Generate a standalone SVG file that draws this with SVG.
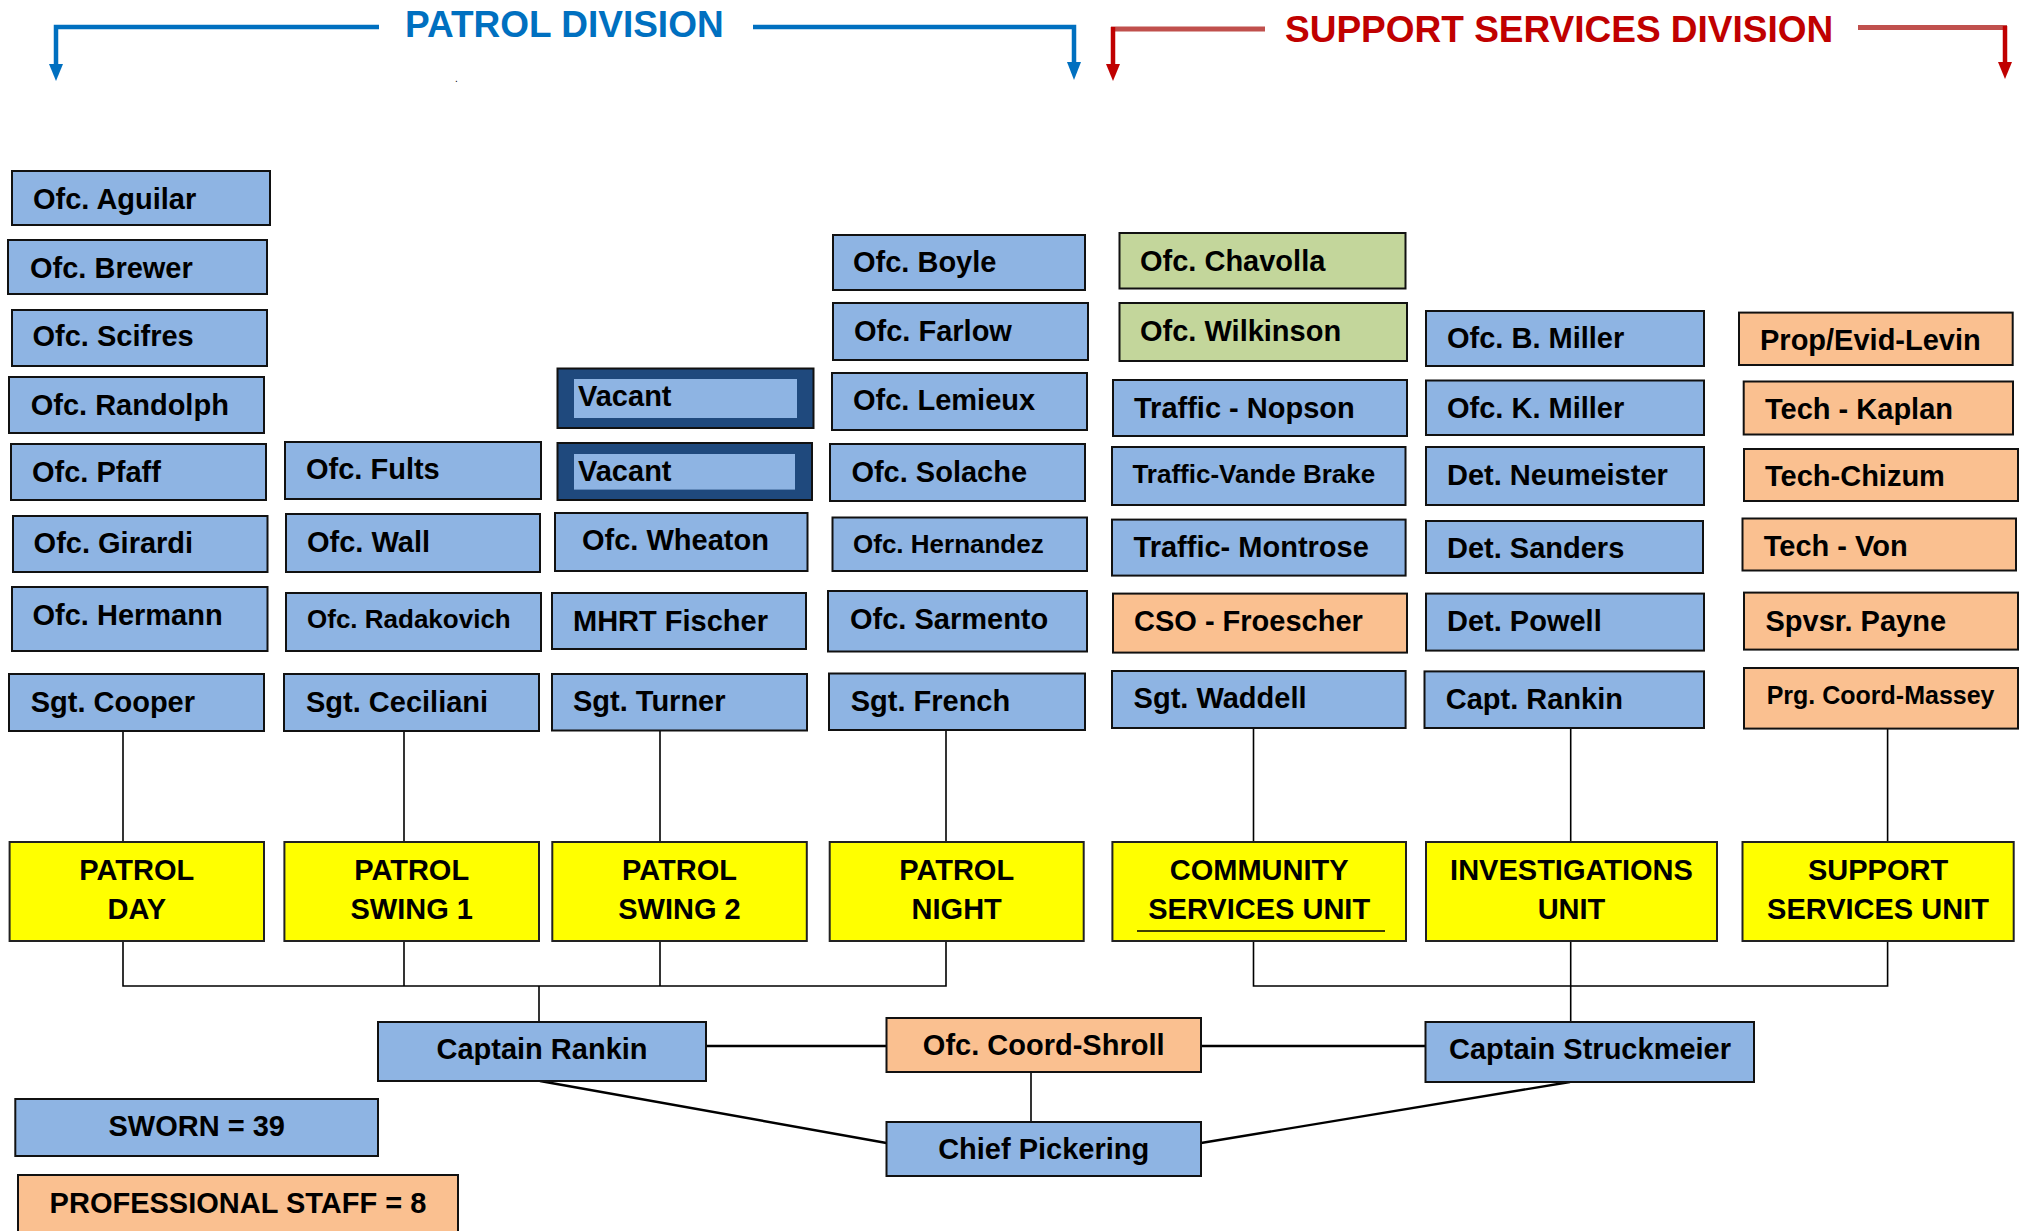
<svg xmlns="http://www.w3.org/2000/svg" width="2025" height="1231" viewBox="0 0 2025 1231">
<style>
rect.b{fill:#8EB4E3;stroke:#111;stroke-width:2}
rect.g{fill:#C3D69B;stroke:#111;stroke-width:2}
rect.o{fill:#FAC090;stroke:#111;stroke-width:2}
rect.y{fill:#FFFF00;stroke:#222;stroke-width:2}
rect.v{fill:#1F497D;stroke:#111;stroke-width:2}
rect.vi{fill:#8EB4E3;stroke:none}
text{font-family:"Liberation Sans",Arial,Helvetica,sans-serif;font-weight:bold;fill:#000}
.t{font-size:29px}
.s{font-size:26px}
.xs{font-size:25px}
.c{font-size:29px;text-anchor:middle}
.hb{font-size:37px;fill:#0070C0}
.hr{font-size:37px;fill:#C00000}
.ln{stroke:#000;stroke-width:1.6;fill:none}
.lm{stroke:#000;stroke-width:2.4;fill:none}
</style>
<defs>
<marker id="ab" markerUnits="userSpaceOnUse" markerWidth="14" markerHeight="16" refX="7" refY="16" orient="auto-start-reverse" viewBox="0 0 14 16"><path d="M0,0 L14,0 L7,16 Z" fill="#0070C0" transform="rotate(-90 7 8)"/></marker>
</defs>
<rect width="2025" height="1231" fill="#fff"/>

<!-- Headers -->
<g id="header-patrol">
<polyline points="379,27 56,27 56,66" fill="none" stroke="#0070C0" stroke-width="4.5"/>
<polygon points="49,64 63,64 56,81" fill="#0070C0"/>
<polyline points="753,27 1074,27 1074,64" fill="none" stroke="#0070C0" stroke-width="4.5"/>
<polygon points="1067,62 1081,62 1074,80" fill="#0070C0"/>
<text class="hb" x="405" y="37">PATROL DIVISION</text>
<text x="455" y="82" style="font-size:10px;font-weight:normal">.</text>
</g>
<g id="header-support">
<line x1="1265" y1="29" x2="1111" y2="29" stroke="#C0504D" stroke-width="5"/>
<line x1="1113" y1="27" x2="1113" y2="66" stroke="#C00000" stroke-width="4.5"/>
<polygon points="1106,64 1120,64 1113,81" fill="#C00000"/>
<line x1="1858" y1="27.5" x2="2007" y2="27.5" stroke="#C0504D" stroke-width="5"/>
<line x1="2005" y1="26" x2="2005" y2="64" stroke="#C00000" stroke-width="4.5"/>
<polygon points="1998,62 2012,62 2005,79" fill="#C00000"/>
<text class="hr" x="1285" y="42">SUPPORT SERVICES DIVISION</text>
</g>

<!-- Connectors -->
<g id="connectors">
<line class="ln" x1="123" y1="731" x2="123" y2="842"/>
<line class="ln" x1="404" y1="731" x2="404" y2="842"/>
<line class="ln" x1="660" y1="730" x2="660" y2="842"/>
<line class="ln" x1="946" y1="730" x2="946" y2="842"/>
<line class="ln" x1="1253.5" y1="728" x2="1253.5" y2="842"/>
<line class="ln" x1="1570.7" y1="728" x2="1570.7" y2="842"/>
<line class="ln" x1="1887.6" y1="729" x2="1887.6" y2="842"/>
<polyline class="ln" points="123,941 123,986 946,986 946,941"/>
<line class="ln" x1="404" y1="941" x2="404" y2="986"/>
<line class="ln" x1="660" y1="941" x2="660" y2="986"/>
<line class="ln" x1="539" y1="986" x2="539" y2="1022"/>
<polyline class="ln" points="1253.5,941 1253.5,986 1887.6,986 1887.6,941"/>
<line class="ln" x1="1570.7" y1="941" x2="1570.7" y2="1022"/>
<line class="lm" x1="706" y1="1046" x2="886.5" y2="1046"/>
<line class="lm" x1="1201" y1="1046" x2="1425.5" y2="1046"/>
<line class="ln" x1="1031" y1="1072" x2="1031" y2="1122"/>
<line class="lm" x1="540" y1="1081" x2="886.5" y2="1143"/>
<line class="lm" x1="1570" y1="1082" x2="1201" y2="1143"/>
</g>

<!-- Patrol Day -->
<g id="ofc-aguilar"><rect class="b" x="12" y="171" width="258" height="54"/><text class="t" x="33" y="209">Ofc. Aguilar</text></g>
<g id="ofc-brewer"><rect class="b" x="8" y="240" width="259" height="54"/><text class="t" x="30" y="278">Ofc. Brewer</text></g>
<g id="ofc-scifres"><rect class="b" x="12" y="310" width="255" height="56"/><text class="t" x="32.5" y="346">Ofc. Scifres</text></g>
<g id="ofc-randolph"><rect class="b" x="9" y="377" width="255" height="56"/><text class="t" x="30.7" y="414.5">Ofc. Randolph</text></g>
<g id="ofc-pfaff"><rect class="b" x="11" y="444" width="255" height="56"/><text class="t" x="32" y="481.5">Ofc. Pfaff</text></g>
<g id="ofc-girardi"><rect class="b" x="13" y="516" width="254.5" height="56"/><text class="t" x="33.6" y="553">Ofc. Girardi</text></g>
<g id="ofc-hermann"><rect class="b" x="12" y="587" width="255.5" height="64"/><text class="t" x="32.5" y="625">Ofc. Hermann</text></g>
<g id="sgt-cooper"><rect class="b" x="9" y="674" width="255" height="57"/><text class="t" x="30.7" y="712">Sgt. Cooper</text></g>

<!-- Patrol Swing 1 -->
<g id="ofc-fults"><rect class="b" x="285" y="442" width="256" height="57"/><text class="t" x="306" y="479">Ofc. Fults</text></g>
<g id="ofc-wall"><rect class="b" x="286" y="514" width="254" height="58"/><text class="t" x="307" y="552">Ofc. Wall</text></g>
<g id="ofc-radakovich"><rect class="b" x="286" y="593" width="255" height="58"/><text class="s" x="307" y="628">Ofc. Radakovich</text></g>
<g id="sgt-ceciliani"><rect class="b" x="284" y="674" width="255" height="57"/><text class="t" x="306" y="712">Sgt. Ceciliani</text></g>

<!-- Patrol Swing 2 -->
<g id="vacant-1"><rect class="v" x="557.5" y="368.5" width="256" height="59.5"/><rect class="vi" x="574" y="379" width="223" height="39"/><text class="t" x="578" y="406">Vacant</text></g>
<g id="vacant-2"><rect class="v" x="557.5" y="443" width="254.5" height="57"/><rect class="vi" x="574" y="454" width="221" height="35.6"/><text class="t" x="578" y="480.7">Vacant</text></g>
<g id="ofc-wheaton"><rect class="b" x="555" y="513" width="252.5" height="58"/><text class="t" x="582" y="550">Ofc. Wheaton</text></g>
<g id="mhrt-fischer"><rect class="b" x="552" y="593" width="254" height="56"/><text class="t" x="573" y="630.5">MHRT Fischer</text></g>
<g id="sgt-turner"><rect class="b" x="552" y="674" width="255" height="56.5"/><text class="t" x="573" y="710.7">Sgt. Turner</text></g>

<!-- Patrol Night -->
<g id="ofc-boyle"><rect class="b" x="833" y="235" width="252" height="55"/><text class="t" x="853" y="272">Ofc. Boyle</text></g>
<g id="ofc-farlow"><rect class="b" x="833" y="303" width="255" height="57"/><text class="t" x="854" y="340.5">Ofc. Farlow</text></g>
<g id="ofc-lemieux"><rect class="b" x="832" y="373" width="255" height="57"/><text class="t" x="853" y="410.4">Ofc. Lemieux</text></g>
<g id="ofc-solache"><rect class="b" x="830" y="444" width="255" height="57"/><text class="t" x="851.4" y="481.7">Ofc. Solache</text></g>
<g id="ofc-hernandez"><rect class="b" x="832.5" y="517.5" width="254.5" height="53.5"/><text class="s" x="853" y="553">Ofc. Hernandez</text></g>
<g id="ofc-sarmento"><rect class="b" x="828" y="591" width="259" height="60.5"/><text class="t" x="850" y="629">Ofc. Sarmento</text></g>
<g id="sgt-french"><rect class="b" x="829" y="673.5" width="256" height="56.5"/><text class="t" x="850.7" y="710.7">Sgt. French</text></g>

<!-- Community Services -->
<g id="ofc-chavolla"><rect class="g" x="1119.5" y="233" width="286" height="55.5"/><text class="t" x="1140" y="271">Ofc. Chavolla</text></g>
<g id="ofc-wilkinson"><rect class="g" x="1119.5" y="303" width="287.5" height="58"/><text class="t" x="1140" y="340.5">Ofc. Wilkinson</text></g>
<g id="traffic-nopson"><rect class="b" x="1113" y="380" width="294" height="56"/><text class="t" x="1134" y="418">Traffic - Nopson</text></g>
<g id="traffic-vande-brake"><rect class="b" x="1112" y="447" width="293.5" height="58"/><text class="s" x="1132.4" y="483.4">Traffic-Vande Brake</text></g>
<g id="traffic-montrose"><rect class="b" x="1112" y="519.6" width="293.6" height="56"/><text class="t" x="1133.6" y="557">Traffic- Montrose</text></g>
<g id="cso-froescher"><rect class="o" x="1113" y="593.6" width="294" height="59"/><text class="t" x="1134" y="630.8">CSO - Froescher</text></g>
<g id="sgt-waddell"><rect class="b" x="1112" y="671" width="293.6" height="57"/><text class="t" x="1133.6" y="708">Sgt. Waddell</text></g>

<!-- Investigations -->
<g id="ofc-b-miller"><rect class="b" x="1426" y="311" width="278" height="55"/><text class="t" x="1447" y="348.4">Ofc. B. Miller</text></g>
<g id="ofc-k-miller"><rect class="b" x="1426" y="380.5" width="278" height="54.5"/><text class="t" x="1447" y="418">Ofc. K. Miller</text></g>
<g id="det-neumeister"><rect class="b" x="1426" y="447" width="278" height="58"/><text class="t" x="1447" y="484.5">Det. Neumeister</text></g>
<g id="det-sanders"><rect class="b" x="1426" y="521" width="277" height="52"/><text class="t" x="1447" y="558">Det. Sanders</text></g>
<g id="det-powell"><rect class="b" x="1426" y="593.6" width="278" height="57"/><text class="t" x="1447" y="630.8">Det. Powell</text></g>
<g id="capt-rankin"><rect class="b" x="1424.5" y="671.4" width="279.5" height="56.6"/><text class="t" x="1445.7" y="709">Capt. Rankin</text></g>

<!-- Support Services -->
<g id="prop-evid-levin"><rect class="o" x="1739" y="312.6" width="273.7" height="52.4"/><text class="t" x="1760" y="350">Prop/Evid-Levin</text></g>
<g id="tech-kaplan"><rect class="o" x="1743.7" y="381.5" width="269.3" height="53"/><text class="t" x="1765" y="419">Tech - Kaplan</text></g>
<g id="tech-chizum"><rect class="o" x="1744" y="449" width="274" height="52"/><text class="t" x="1765" y="485.8">Tech-Chizum</text></g>
<g id="tech-von"><rect class="o" x="1742.5" y="518.5" width="273.5" height="52"/><text class="t" x="1763.7" y="556.4">Tech - Von</text></g>
<g id="spvsr-payne"><rect class="o" x="1744" y="592.6" width="274" height="57"/><text class="t" x="1765.5" y="630.5">Spvsr. Payne</text></g>
<g id="prg-coord-massey"><rect class="o" x="1744" y="668" width="274" height="60.6"/><text class="xs" x="1766.7" y="703.8">Prg. Coord-Massey</text></g>

<!-- Units -->
<g id="unit-patrol-day"><rect class="y" x="9.6" y="842" width="254.4" height="99"/><text class="c" x="136.8" y="880">PATROL</text><text class="c" x="136.8" y="919">DAY</text></g>
<g id="unit-patrol-swing1"><rect class="y" x="284.4" y="842" width="254.6" height="99"/><text class="c" x="411.7" y="880">PATROL</text><text class="c" x="411.7" y="919">SWING 1</text></g>
<g id="unit-patrol-swing2"><rect class="y" x="552.3" y="842" width="254.5" height="99"/><text class="c" x="679.5" y="880">PATROL</text><text class="c" x="679.5" y="919">SWING 2</text></g>
<g id="unit-patrol-night"><rect class="y" x="829.7" y="842" width="254" height="99"/><text class="c" x="956.7" y="880">PATROL</text><text class="c" x="956.7" y="919">NIGHT</text></g>
<g id="unit-community"><rect class="y" x="1112.4" y="842" width="293.6" height="99"/><text class="c" x="1259.2" y="880">COMMUNITY</text><text class="c" x="1259.2" y="919">SERVICES UNIT</text><line x1="1137" y1="931" x2="1385" y2="931" stroke="#000" stroke-width="1.5"/></g>
<g id="unit-investigations"><rect class="y" x="1426" y="842" width="291" height="99"/><text class="c" x="1571.5" y="880">INVESTIGATIONS</text><text class="c" x="1571.5" y="919">UNIT</text></g>
<g id="unit-support"><rect class="y" x="1742.5" y="842" width="271.2" height="99"/><text class="c" x="1878" y="880">SUPPORT</text><text class="c" x="1878" y="919">SERVICES UNIT</text></g>

<!-- Command -->
<g id="captain-rankin"><rect class="b" x="378" y="1022" width="328" height="59"/><text class="c" x="542" y="1059">Captain Rankin</text></g>
<g id="ofc-coord-shroll"><rect class="o" x="886.5" y="1018" width="314.5" height="54"/><text class="c" x="1043.7" y="1055">Ofc. Coord-Shroll</text></g>
<g id="captain-struckmeier"><rect class="b" x="1425.5" y="1022" width="328.5" height="60"/><text class="c" x="1590" y="1059">Captain Struckmeier</text></g>
<g id="chief-pickering"><rect class="b" x="886.5" y="1122" width="314.5" height="54"/><text class="c" x="1043.7" y="1159">Chief Pickering</text></g>

<!-- Totals -->
<g id="sworn-total"><rect class="b" x="15.3" y="1099" width="362.7" height="57"/><text class="c" x="196.7" y="1136">SWORN = 39</text></g>
<g id="professional-total"><rect class="o" x="18" y="1175" width="440" height="62"/><text class="c" x="238" y="1213">PROFESSIONAL STAFF = 8</text></g>
</svg>
